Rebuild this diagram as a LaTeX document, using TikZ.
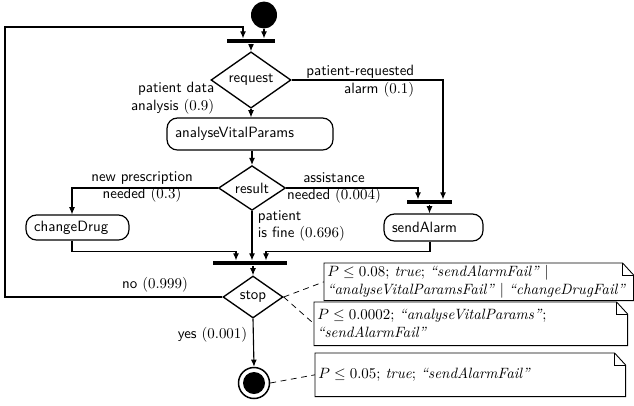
\documentclass[tikz,border=0pt]{standalone}
\usetikzlibrary{shapes.geometric,arrows.meta,calc}
\newcommand{\pxu}{0.67pt}
\newcommand{\noteframe}[1]{%
  \draw[noteline] (#1.north west) -- ($(#1.north east)+(-11,0)$) -- ($(#1.north east)+(0,12)$) -- (#1.south east) -- (#1.south west) -- cycle;
  \draw[noteline] ($(#1.north east)+(-11,0)$) |- ($(#1.north east)+(0,12)$);}
\tikzset{
  every node/.style={font=\sffamily},
  conn/.style={line width=0.75pt},
  arr/.style={conn,-{Latex[length=4.8pt,width=4pt]}},
  dashconn/.style={line width=0.5pt,dash pattern=on 4pt off 3pt},
  noteline/.style={line width=0.6pt},
  act/.style 2 args={rectangle,draw,line width=0.8pt,rounded corners=7pt,
    inner xsep={8*\pxu},inner ysep=0pt,align=left,
    minimum width={#1*\pxu},text width={(#1-16)*\pxu},minimum height={#2*\pxu}},
  dec/.style 2 args={diamond,draw,line width=0.9pt,inner sep=0pt,
    minimum width={#1*\pxu},minimum height={#2*\pxu}},
  bar/.style={rectangle,fill=black,inner sep=0pt,minimum width={#1*\pxu},minimum height={4.5*\pxu}},
  note/.style 2 args={rectangle,fill=white,anchor=north west,inner xsep={3*\pxu},inner ysep=0pt,
    minimum width={#1*\pxu},text width={(#1-6)*\pxu},minimum height={#2*\pxu},
    align=left,font=\rmfamily},
  lbl/.style={inner sep=1pt}
}
\begin{document}
\begin{tikzpicture}[x=0.67pt,y=-0.67pt]
\useasboundingbox (0,0) rectangle (634,405);

% nodes
\node[ellipse,fill=black,inner sep=0pt,minimum width={26*\pxu},minimum height={27*\pxu}] (start) at (264,15) {};
\node[bar=48] (topbar) at (251,41) {};
\node[dec={80}{52}] (request) at (251,80) {request};
\node[act={166}{32}] (analyse) at (250,134) {analyseVitalParams};
\node[dec={67}{44}] (result) at (252,188) {result};
\node[act={103}{25}] (change) at (77.5,227.5) {changeDrug};
\node[bar=45] (alarmbar) at (429.5,202) {};
\node[act={99}{27}] (send) at (433.5,227.5) {sendAlarm};
\node[bar=74] (botbar) at (250,263) {};
\node[dec={60}{42}] (stop) at (253,297) {stop};
\node[circle,draw,line width=1pt,inner sep=0pt,minimum size={31*\pxu}] (final) at (254,383) {};
\fill (final.center) circle[radius={11*\pxu}];
\coordinate (loopL) at (5,27);

% connectors
\draw[arr] (start.south) -- (start.south |- topbar.north);
\draw[arr] (stop.west) -| (loopL) -| ($(topbar.north)+(-8,0)$);
\draw[arr] (topbar.south) -- (topbar.south |- request.north);
\draw[arr] (request.south) -- (request.south |- analyse.north);
\draw[arr] (request.east) -| ($(alarmbar.north)+(13.5,0)$);
\draw[arr] (analyse.south -| result.north) -- (result.north);
\draw[arr] (result.west) -| ($(change.north)+(-5.5,0)$);
\draw[arr] (result.east) -| ($(alarmbar.north)+(-11.5,0)$);
\draw[arr] (alarmbar.south) -- (alarmbar.south |- send.north);
\draw[arr] ($(change.south)+(-5.5,0)$) -- ++(0,11) -| ($(botbar.north)+(-14,0)$);
\draw[arr] (result.south) -- (result.south |- botbar.north);
\draw[arr] ($(send.south)+(-3.5,0)$) -- ++(0,10) -| ($(botbar.north)+(16,0)$);
\draw[arr] (botbar.south -| stop.north) -- (stop.north);
\draw[arr] (stop.south) -- (final.north);

% labels
\node[lbl,anchor=east,align=right] at (216,98.5) {patient data\\analysis $(0.9)$};
\node[lbl,anchor=east,align=right] at (416,81) {patient-requested\\alarm $(0.1)$};
\node[lbl,align=center] at (142,187) {new prescription\\needed $(0.3)$};
\node[lbl,align=center] at (334,188) {assistance\\needed $(0.004)$};
\node[lbl,anchor=west,align=left] at (256,226) {patient\\is fine $(0.696)$};
\node[lbl] at (155,285) {no $(0.999)$};
\node[lbl,anchor=east] at (249,335) {yes $(0.001)$};

% notes
\node[note={309}{37}] (n1) at (324,263) {$P \leq 0.08$; \textit{true}; \textit{``sendAlarmFail''} $|$\\ \textit{``analyseVitalParamsFail''} $|$ \textit{``changeDrugFail''}};
\noteframe{n1}
\node[note={313}{43}] (n2) at (314,302) {$P \leq 0.0002$; \textit{``analyseVitalParams''};\\ \textit{``sendAlarmFail''}};
\noteframe{n2}
\node[note={310}{43}] (n3) at (315,353) {$P \leq 0.05$; \textit{true}; \textit{``sendAlarmFail''}};
\noteframe{n3}

\draw[dashconn] (stop.east) -- (n1.west);
\draw[dashconn] (stop.east) -- (n2.west);
\draw[dashconn] (final.east) -- (n3.west);
\end{tikzpicture}
\end{document}
